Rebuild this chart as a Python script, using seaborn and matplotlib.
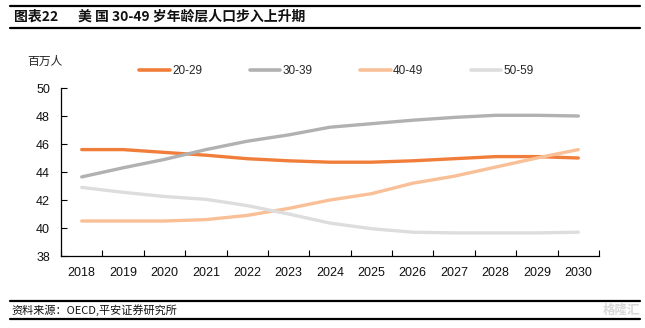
import matplotlib
matplotlib.use("Agg")
import matplotlib.pyplot as plt
import seaborn as sns
import pandas as pd
from matplotlib.lines import Line2D
from matplotlib.ticker import FixedLocator

sns.set_theme(style="white")
plt.rcParams['font.family'] = ['Liberation Sans', 'Noto Sans CJK SC', 'DejaVu Sans']

years = list(range(2018, 2031))
age_20_29 = [45.6, 45.6, 45.4, 45.2, 44.95, 44.8, 44.7, 44.7, 44.8, 44.95, 45.1, 45.1, 45.0]
age_30_39 = [43.65, 44.3, 44.9, 45.6, 46.2, 46.65, 47.2, 47.45, 47.7, 47.9, 48.05, 48.05, 48.0]
age_40_49 = [40.5, 40.5, 40.5, 40.6, 40.9, 41.4, 42.0, 42.45, 43.2, 43.7, 44.35, 45.0, 45.6]
age_50_59 = [42.9, 42.55, 42.25, 42.05, 41.6, 41.0, 40.35, 39.95, 39.7, 39.65, 39.65, 39.65, 39.7]
series_names = ["20-29", "30-39", "40-49", "50-59"]
colors = ["#F07E3A", "#B1B1B1", "#F9C097", "#DDDDDD"]

rows = []
for name, vals in zip(series_names, [age_20_29, age_30_39, age_40_49, age_50_59]):
    for y, v in zip(years, vals):
        rows.append({"year": y, "value": v, "group": name})
df = pd.DataFrame(rows)

fig = plt.figure(figsize=(6.45, 3.28), dpi=100)
ax = fig.add_axes([0.0946, 0.2195, 0.9287 - 0.0946, 0.7317 - 0.2195])

sns.lineplot(data=df, x="year", y="value", hue="group", hue_order=series_names,
             palette=colors, linewidth=2.4, ax=ax, legend=False, sort=False)

ax.set_xlim(2017.5, 2030.5)
ax.set_ylim(38, 50)
ax.set_yticks([38, 40, 42, 44, 46, 48, 50])
ax.set_xticks(years)
ax.set_xticklabels([str(y) for y in years], fontsize=9, color="#111111")
ax.tick_params(axis='x', which='major', length=0, pad=8)
ax.xaxis.set_minor_locator(FixedLocator([y + 0.5 for y in range(2017, 2031)]))
ax.tick_params(axis='x', which='minor', direction='in', length=4, width=0.8, color='black', bottom=True)
ax.tick_params(axis='y', direction='in', length=4, width=0.8, color='black', labelsize=9, labelcolor="#111111", pad=8, left=True)
for lbl in ax.get_yticklabels():
    lbl.set_fontsize(9)
ax.set_xlabel("")
ax.set_ylabel("")
for s in ["top", "right"]:
    ax.spines[s].set_visible(False)
for s in ["left", "bottom"]:
    ax.spines[s].set_color("black")
    ax.spines[s].set_linewidth(0.9)
ax.grid(False)

handles = [Line2D([0], [0], color=c, lw=2.6) for c in colors]
fig.legend(handles, series_names, loc="center", bbox_to_anchor=(0.522, 0.784), ncol=4,
           frameon=False, fontsize=8.5, handlelength=2.6, handletextpad=0.2, columnspacing=4.0)

fig.text(0.042, 0.814, "百万人", fontsize=8.5, family=['Noto Sans CJK SC', 'DejaVu Sans'],
         ha="left", va="center", color="#222222")

# title and rules
fig.add_artist(Line2D([10/645, 640/645], [1 - 6/328, 1 - 6/328], color="black", lw=1.6))
fig.add_artist(Line2D([10/645, 640/645], [1 - 28/328, 1 - 28/328], color="black", lw=1.6))
fig.text(14/645, 1 - 17/328, "图表22", fontsize=10, fontweight="bold",
         family=['Noto Sans CJK SC', 'DejaVu Sans'], ha="left", va="center", color="#111111")
fig.text(78/645, 1 - 17/328, "美 国 30-49 岁年龄层人口步入上升期", fontsize=10, fontweight="bold",
         family=['Noto Sans CJK SC', 'DejaVu Sans'], ha="left", va="center", color="#111111")

fig.add_artist(Line2D([10/645, 640/645], [1 - 301/328, 1 - 301/328], color="black", lw=1.6))
fig.add_artist(Line2D([10/645, 640/645], [1 - 319/328, 1 - 319/328], color="black", lw=1.6))
fig.text(11/645, 1 - 310/328, "资料来源：OECD,平安证券研究所", fontsize=8, style="italic",
         family=['Noto Sans CJK SC', 'DejaVu Sans'], ha="left", va="center", color="#111111")
fig.text(640/645, 1 - 310/328, "格隆汇", fontsize=9, fontweight="bold",
         family=['Noto Sans CJK SC', 'DejaVu Sans'], ha="right", va="center", color="#D8D8D8")

fig.savefig("out.png", dpi=100, facecolor="white")
